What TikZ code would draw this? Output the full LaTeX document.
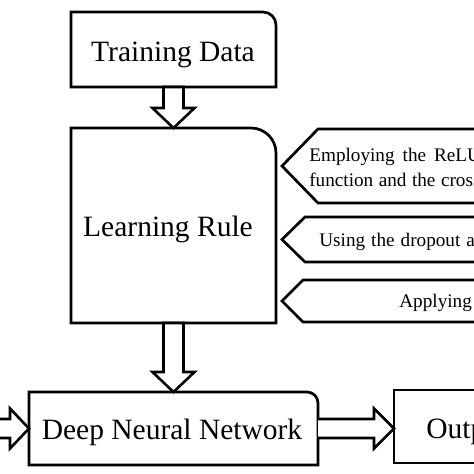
\documentclass[tikz,border=0pt]{standalone}
\usepackage{fontspec}
\setmainfont{Liberation Serif}
\usetikzlibrary{calc}
\begin{document}
\begin{tikzpicture}[x=1pt,y=-1pt,line width=2.7pt,line join=miter,
  boxnode/.style={inner sep=0pt,outer sep=0pt,draw=none},
  bigtext/.style={inner sep=0pt,anchor=base,font=\fontsize{29.5pt}{34pt}\selectfont},
  smalltext/.style={inner sep=0pt,anchor=base west,font=\fontsize{19.2pt}{25pt}\selectfont},
  hollow/.style={draw=black,fill=white,line width=2.6pt},
  outline/.style={draw=black,line width=2.7pt}]
\useasboundingbox (0,0) rectangle (474,474);
\fill[white] (0,0) rectangle (474,474);
\clip (0,0) rectangle (474,474);

% boxes
\node[boxnode,minimum width=205pt,minimum height=75pt] (td) at (173.5,49.5) {};
\node[boxnode,minimum width=205pt,minimum height=195pt] (lr) at (173.5,225.5) {};
\node[boxnode,minimum width=289pt,minimum height=73pt] (dnn) at (173.5,428.5) {};
\node[boxnode,minimum width=306pt,minimum height=73pt] (out) at (547,426.5) {};
\coordinate (inleft) at (-20,428.5);

\draw[outline] (td.south west) -- (td.north west) -- ([xshift=-13pt]td.north east)
  arc[start angle=90,end angle=0,radius=13pt] -- (td.south east) -- cycle;
\draw[outline] (lr.south west) -- (lr.north west) -- ([xshift=-25pt]lr.north east)
  arc[start angle=90,end angle=0,radius=25pt] -- (lr.south east) -- cycle;
\draw[outline] (dnn.south west) -- (dnn.north west) -- ([xshift=-11pt]dnn.north east)
  arc[start angle=90,end angle=0,radius=11pt] -- (dnn.south east) -- cycle;
\draw[outline] (out.south west) rectangle (out.north east);

\node[bigtext] (tdt) at (173,61) {Training Data};
\node[bigtext] (lrt) at (168,236.5) {Learning Rule};
\node[bigtext] (dnnt) at (172,439) {Deep Neural Network};
\node[bigtext,anchor=base west] (outt) at (425,438.5) {Output};

% hollow arrows
\draw[hollow] ($(td.south)+(-10,0)$) -- ($(td.south)+(10,0)$) -- ($(lr.north)+(10,-20)$)
  -- ($(lr.north)+(21,-20)$) -- (lr.north) -- ($(lr.north)+(-21,-20)$)
  -- ($(lr.north)+(-10,-20)$) -- cycle;
\draw[hollow] ($(lr.south)+(-10,0)$) -- ($(lr.south)+(10,0)$) -- ($(dnn.north)+(10,-20)$)
  -- ($(dnn.north)+(21,-20)$) -- (dnn.north) -- ($(dnn.north)+(-21,-20)$)
  -- ($(dnn.north)+(-10,-20)$) -- cycle;
\coordinate (otip) at (dnn.east -| out.west);
\draw[hollow] ($(dnn.east)+(0,-9.5)$) -- ($(otip)+(-20,-9.5)$) -- ($(otip)+(-20,-20)$)
  -- (otip) -- ($(otip)+(-20,20)$) -- ($(otip)+(-20,9.5)$)
  -- ($(dnn.east)+(0,9.5)$);
\draw[hollow] ($(inleft)+(0,-9.5)$) -- ($(dnn.west)+(-19,-9.5)$) -- ($(dnn.west)+(-19,-20)$)
  -- (dnn.west) -- ($(dnn.west)+(-19,20)$) -- ($(dnn.west)+(-19,9.5)$)
  -- ($(inleft)+(0,9.5)$);

% side pentagons
\draw[outline] (700,129) -- (318,129) -- (282,166) -- (318,203) -- (700,203);
\draw[outline] (700,217) -- (305,217) -- (282,239.5) -- (305,262) -- (700,262);
\draw[outline] (700,280) -- (303,280) -- (282,301) -- (303,322) -- (700,322);

\node[smalltext] (s1a) at (308,161.7) {\spaceskip=8pt Employing the ReLU};
\node[smalltext] (s1b) at (308,186.5) {\spaceskip=5.5pt function and the cross};
\node[smalltext] (s2) at (318,246) {\spaceskip=6pt Using the dropout a};
\node[smalltext] (s3) at (398,307.7) {Applying};
\end{tikzpicture}
\end{document}
